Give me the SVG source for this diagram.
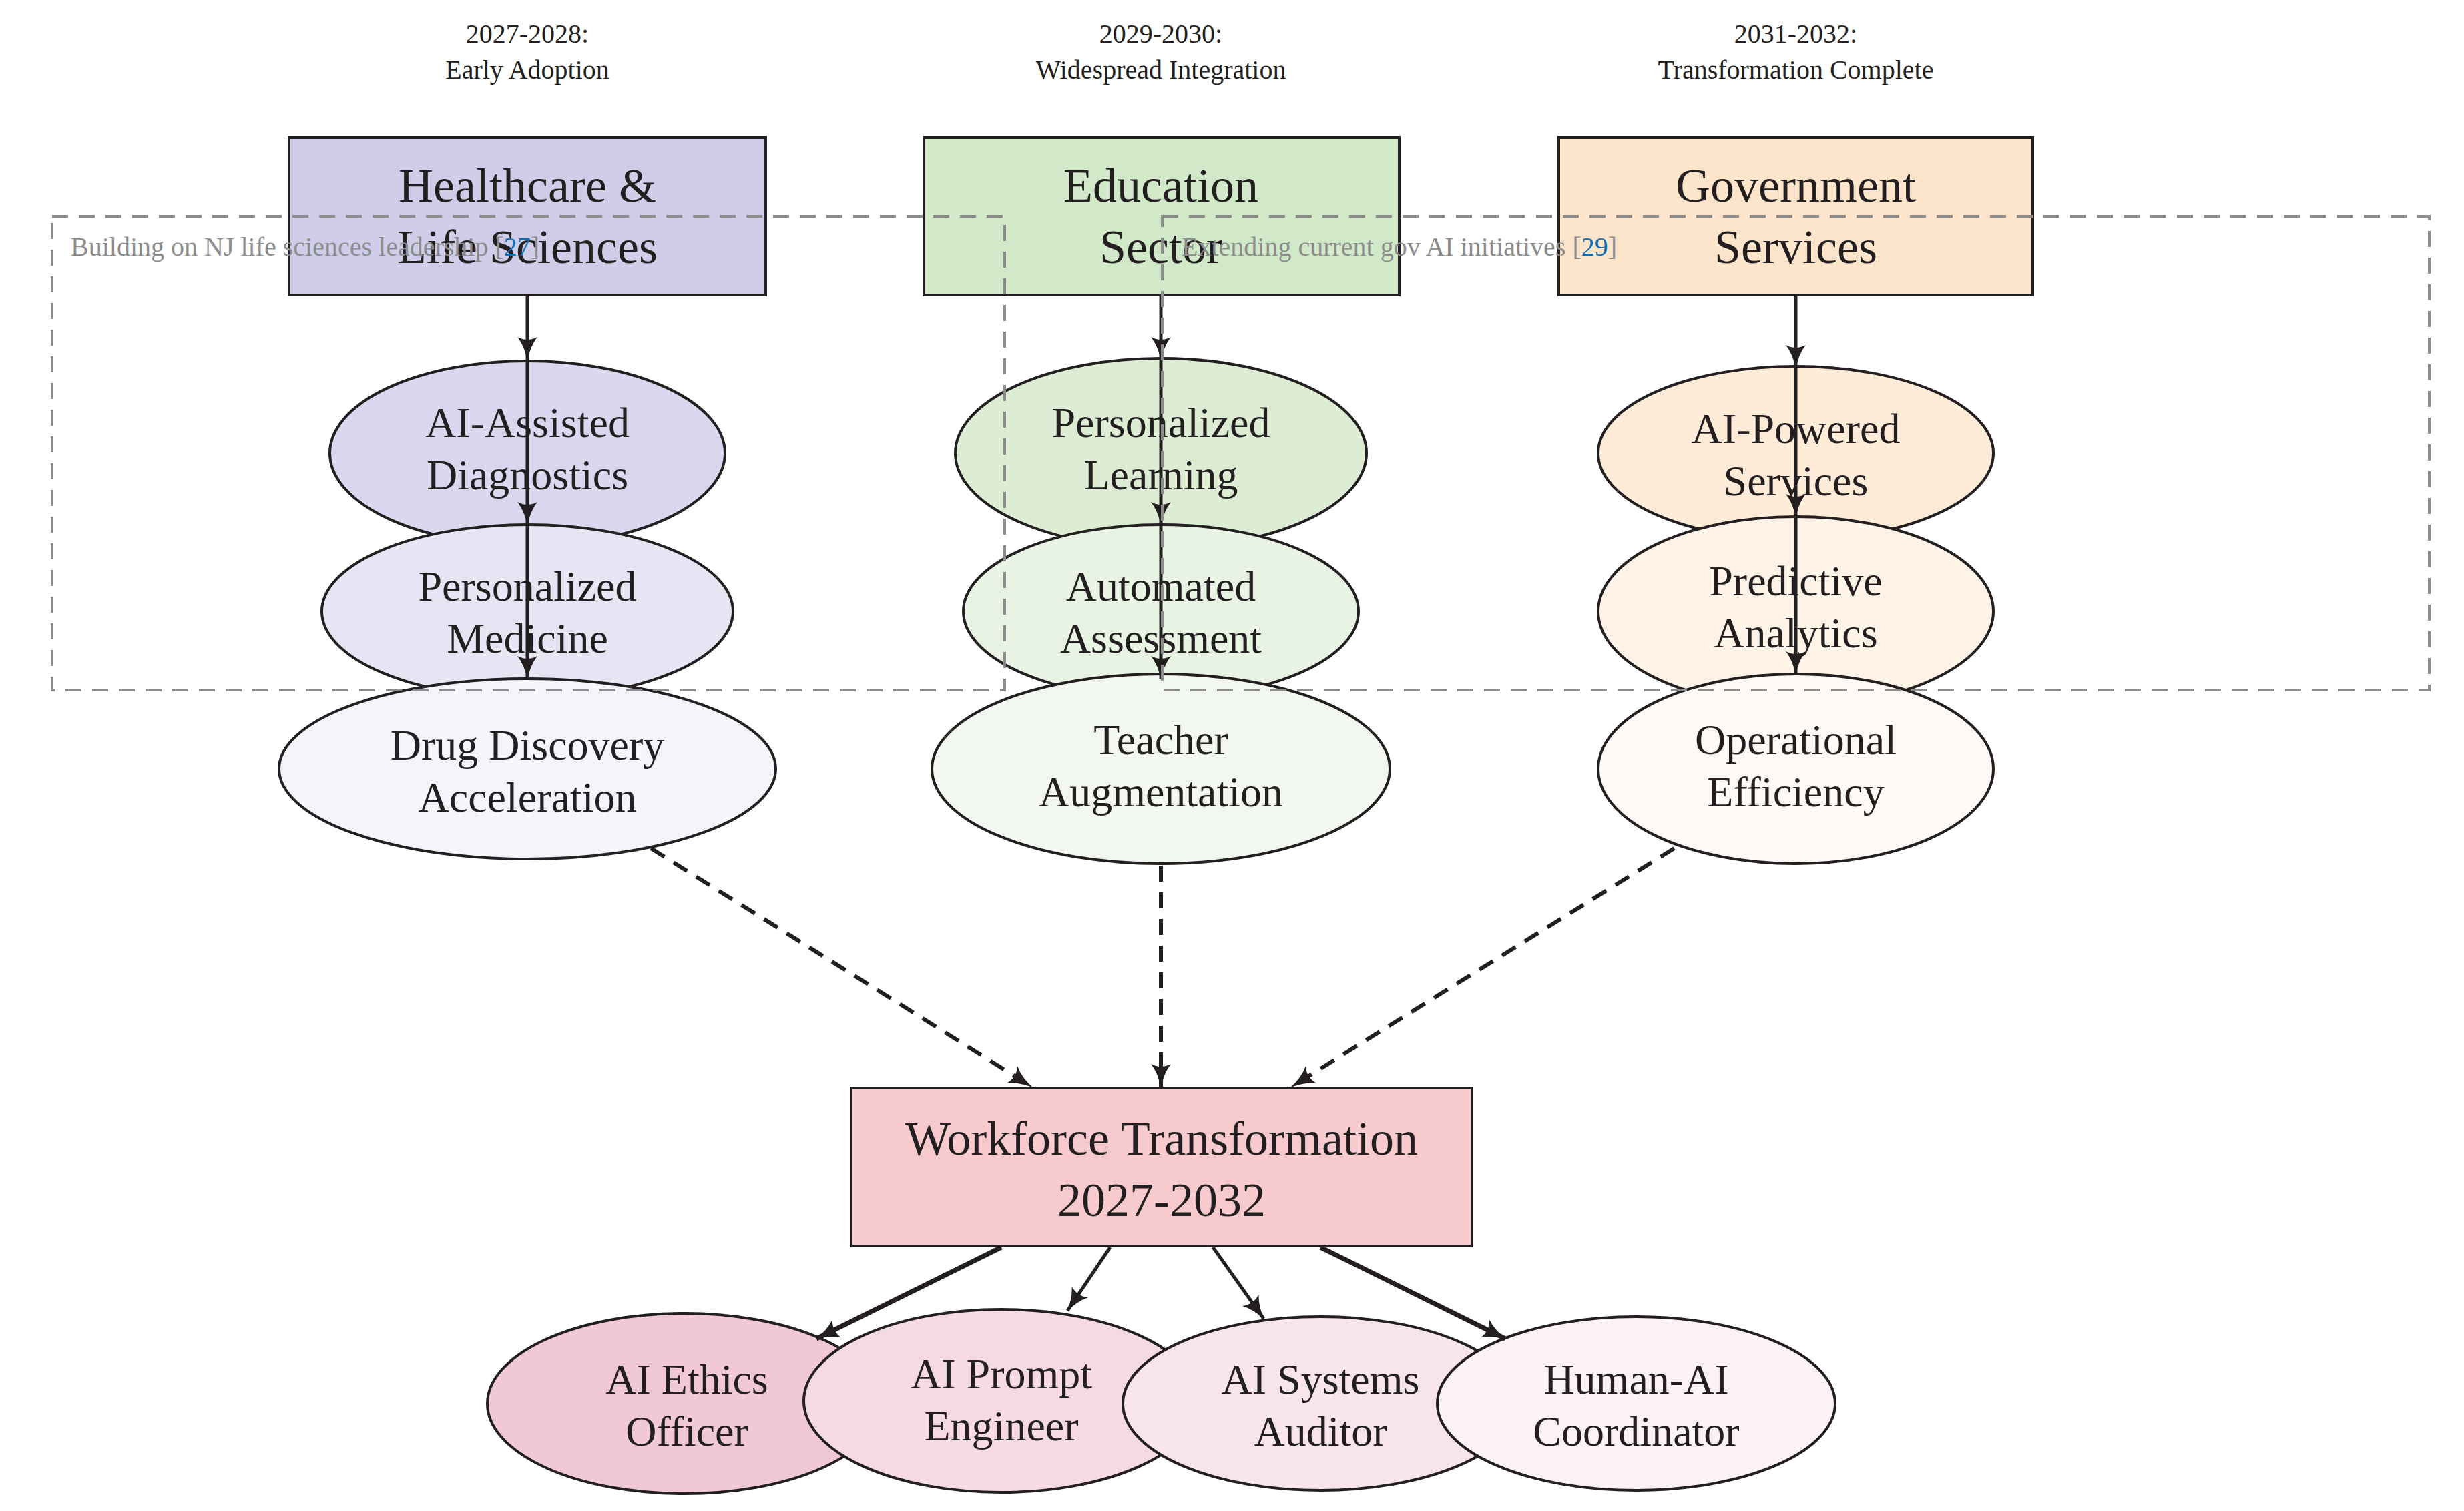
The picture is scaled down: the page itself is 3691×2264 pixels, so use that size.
<svg xmlns="http://www.w3.org/2000/svg" width="3691" height="2264" viewBox="0 0 3691 2264">
<style>
text{font-family:"Liberation Serif","DejaVu Serif",serif;fill:#231f20;text-anchor:middle}
.yr{font-size:40px}
.bx{font-size:72px}
.el{font-size:64px}
.nd rect,.nd ellipse{stroke:#231f20;stroke-width:4}
.c{stroke:#231f20;stroke-width:5;fill:none}
.t{stroke:#231f20;stroke-width:7;fill:none}
.d{stroke:#231f20;stroke-width:6;fill:none;stroke-dasharray:24,16}
.grp{fill:none;stroke:#8c8c8c;stroke-width:4;stroke-dasharray:24,16}
.gl{font-size:40px;fill:#8c8c8c;text-anchor:start}
</style>
<defs>
<marker id="a" viewBox="0 0 36 30" refX="34" refY="15" markerWidth="36" markerHeight="30" markerUnits="userSpaceOnUse" orient="auto">
<path d="M0,0 Q14,11 36,15 Q14,19 0,30 Q8,15 0,0Z" fill="#231f20"/>
</marker>
</defs>
<g id="years">
<text class="yr" x="790" y="64">2027-2028:</text><text class="yr" x="790" y="118">Early Adoption</text>
<text class="yr" x="1739" y="64">2029-2030:</text><text class="yr" x="1739" y="118">Widespread Integration</text>
<text class="yr" x="2690" y="64">2031-2032:</text><text class="yr" x="2690" y="118">Transformation Complete</text>
</g>
<g id="healthcare" class="nd"><rect x="433" y="206" width="714" height="236" fill="#cfcde8"/><text class="bx" x="790" y="302">Healthcare &amp;</text><text class="bx" x="790" y="394">Life Sciences</text></g>
<g id="education" class="nd"><rect x="1384" y="206" width="712" height="236" fill="#d2e9c9"/><text class="bx" x="1739" y="302">Education</text><text class="bx" x="1739" y="394">Sector</text></g>
<g id="government" class="nd"><rect x="2335" y="206" width="710" height="236" fill="#fde5cc"/><text class="bx" x="2690" y="302">Government</text><text class="bx" x="2690" y="394">Services</text></g>

<g id="h1" class="nd"><ellipse cx="790" cy="679" rx="296" ry="138" fill="#d9d8ee"/><text class="el" x="790" y="655">AI-Assisted</text><text class="el" x="790" y="733">Diagnostics</text></g>
<g id="h2" class="nd"><ellipse cx="790" cy="916" rx="308" ry="130" fill="#e6e5f3"/><text class="el" x="790" y="900">Personalized</text><text class="el" x="790" y="978">Medicine</text></g>
<g id="h3" class="nd"><ellipse cx="790" cy="1152" rx="372" ry="135" fill="#f4f4fa"/><text class="el" x="790" y="1138">Drug Discovery</text><text class="el" x="790" y="1216">Acceleration</text></g>

<g id="e1" class="nd"><ellipse cx="1739" cy="679" rx="308" ry="142" fill="#dcedd4"/><text class="el" x="1739" y="655">Personalized</text><text class="el" x="1739" y="733">Learning</text></g>
<g id="e2" class="nd"><ellipse cx="1739" cy="916" rx="296" ry="130" fill="#e8f3e3"/><text class="el" x="1739" y="900">Automated</text><text class="el" x="1739" y="978">Assessment</text></g>
<g id="e3" class="nd"><ellipse cx="1739" cy="1152" rx="343" ry="142" fill="#f2f8ef"/><text class="el" x="1739" y="1130">Teacher</text><text class="el" x="1739" y="1208">Augmentation</text></g>

<g id="g1" class="nd"><ellipse cx="2690" cy="679" rx="296" ry="130" fill="#feecd9"/><text class="el" x="2690" y="664">AI-Powered</text><text class="el" x="2690" y="742">Services</text></g>
<g id="g2" class="nd"><ellipse cx="2690" cy="916" rx="296" ry="142" fill="#fef3e6"/><text class="el" x="2690" y="892">Predictive</text><text class="el" x="2690" y="970">Analytics</text></g>
<g id="g3" class="nd"><ellipse cx="2690" cy="1152" rx="296" ry="142" fill="#fef9f4"/><text class="el" x="2690" y="1130">Operational</text><text class="el" x="2690" y="1208">Efficiency</text></g>

<g id="workforce" class="nd"><rect x="1275" y="1630" width="930" height="237" fill="#f7cacd"/><text class="bx" x="1740" y="1730">Workforce Transformation</text><text class="bx" x="1740" y="1822">2027-2032</text></g>

<g id="r1" class="nd"><ellipse cx="1025" cy="2103" rx="295" ry="135" fill="#f0c8d8"/><text class="el" x="1029" y="2088">AI Ethics</text><text class="el" x="1029" y="2166">Officer</text></g>
<g id="r2" class="nd"><ellipse cx="1500" cy="2099" rx="296" ry="137" fill="#f5dae3"/><text class="el" x="1500" y="2080">AI Prompt</text><text class="el" x="1500" y="2158">Engineer</text></g>
<g id="r3" class="nd"><ellipse cx="1978" cy="2103" rx="296" ry="130" fill="#f8e5eb"/><text class="el" x="1978" y="2088">AI Systems</text><text class="el" x="1978" y="2166">Auditor</text></g>
<g id="r4" class="nd"><ellipse cx="2451" cy="2103" rx="298" ry="130" fill="#fcf1f5"/><text class="el" x="2451" y="2088">Human-AI</text><text class="el" x="2451" y="2166">Coordinator</text></g>

<g id="connectors">
<line class="c" x1="790" y1="442" x2="790" y2="539" marker-end="url(#a)"/>
<line class="c" x1="790" y1="539" x2="790" y2="786" marker-end="url(#a)"/>
<line class="c" x1="790" y1="786" x2="790" y2="1017" marker-end="url(#a)"/>
<line class="c" x1="1739" y1="442" x2="1739" y2="539" marker-end="url(#a)"/>
<line class="c" x1="1739" y1="539" x2="1739" y2="786" marker-end="url(#a)"/>
<line class="c" x1="1739" y1="786" x2="1739" y2="1017" marker-end="url(#a)"/>
<line class="c" x1="2690" y1="442" x2="2690" y2="551" marker-end="url(#a)"/>
<line class="c" x1="2690" y1="551" x2="2690" y2="774" marker-end="url(#a)"/>
<line class="c" x1="2690" y1="774" x2="2690" y2="1010" marker-end="url(#a)"/>
<line class="d" x1="975" y1="1271" x2="1545" y2="1628" marker-end="url(#a)"/>
<line class="d" x1="1739" y1="1297" x2="1739" y2="1628" marker-end="url(#a)"/>
<line class="d" x1="2508" y1="1271" x2="1935" y2="1628" marker-end="url(#a)"/>
<line class="t" x1="1500" y1="1869" x2="1223" y2="2006" marker-end="url(#a)"/>
<line class="c" x1="1663" y1="1869" x2="1599" y2="1964" marker-end="url(#a)"/>
<line class="c" x1="1817" y1="1869" x2="1893" y2="1976" marker-end="url(#a)"/>
<line class="t" x1="1978" y1="1869" x2="2255" y2="2006" marker-end="url(#a)"/>
</g>
<g id="group-health"><rect class="grp" x="78" y="324" width="1427" height="710"/><text class="gl" x="106" y="383">Building on NJ life sciences leadership [<tspan fill="#0b6fb8">27</tspan>]</text></g>
<g id="group-gov"><rect class="grp" x="1741" y="324" width="1898" height="710"/><text class="gl" x="1770" y="383">Extending current gov AI initiatives [<tspan fill="#0b6fb8">29</tspan>]</text></g>
</svg>
